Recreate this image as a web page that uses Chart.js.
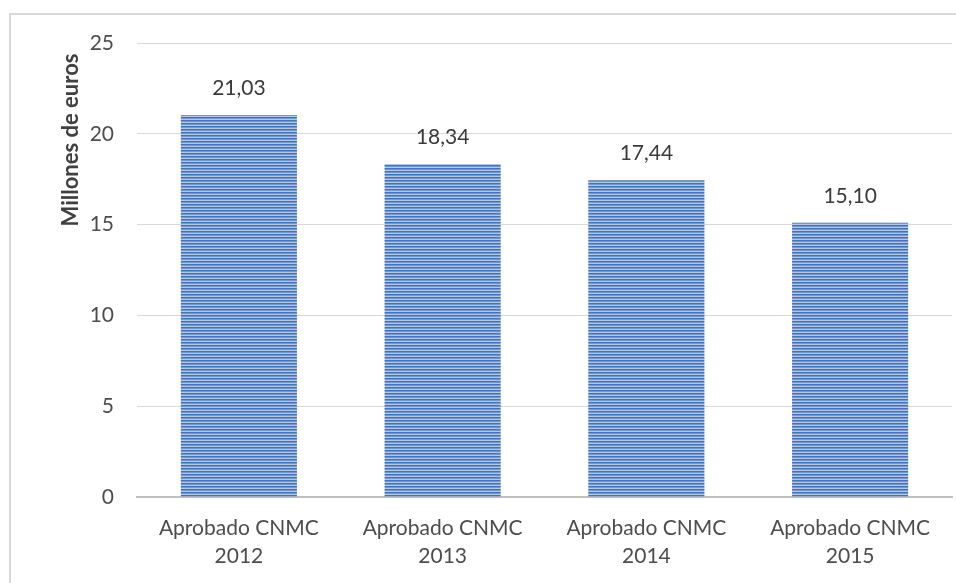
<!DOCTYPE html>
<html>
<head>
<meta charset="utf-8">
<script src="https://cdn.jsdelivr.net/npm/chart.js@4.4.1/dist/chart.umd.min.js"></script>
<style>
  html, body { margin: 0; padding: 0; background: #fff; }
  #wrap { position: relative; width: 956px; height: 583px; overflow: hidden; }
  #frame {
    position: absolute; left: 9px; top: 13px; width: 1000px; height: 700px;
    border-left: 2px solid #d9d9d9; border-top: 2px solid #d9d9d9;
  }
  canvas { position: absolute; left: 0; top: 0; }
</style>
</head>
<body>
<div id="wrap">
  <div id="frame"></div>
  <canvas id="chart" width="956" height="583"></canvas>
</div>
<script>
const categories = [
  ['Aprobado CNMC', '2012'],
  ['Aprobado CNMC', '2013'],
  ['Aprobado CNMC', '2014'],
  ['Aprobado CNMC', '2015'],
];
const values = [21.03, 18.34, 17.44, 15.10];
const yTicks = [0, 5, 10, 15, 20, 25];
const yTitle = 'Millones de euros';

const FONT = 'Lato, "Open Sans", sans-serif';

// horizontal stripes like the original fill
function stripePattern(ctx) {
  const c = document.createElement('canvas');
  c.width = 4; c.height = 3;
  const p = c.getContext('2d');
  p.fillStyle = '#4374ba'; p.fillRect(0, 0, 4, 1);
  p.fillStyle = '#7297cf'; p.fillRect(0, 1, 4, 1);
  p.fillStyle = '#b2c7e8'; p.fillRect(0, 2, 4, 1);
  return ctx.createPattern(c, 'repeat');
}

const valueLabels = {
  id: 'valueLabels',
  afterDatasetsDraw(chart) {
    const ctx = chart.ctx;
    const meta = chart.getDatasetMeta(0);
    ctx.save();
    ctx.font = '21px ' + FONT;
    ctx.fillStyle = '#3a3a3a';
    ctx.textAlign = 'center';
    ctx.textBaseline = 'middle';
    meta.data.forEach((bar, i) => {
      ctx.fillText(values[i].toFixed(2).replace('.', ','), bar.x, bar.y - 27);
    });
    ctx.restore();
  }
};

const axisTitle = {
  id: 'axisTitle',
  afterDraw(chart) {
    const ctx = chart.ctx;
    ctx.save();
    ctx.translate(71, 140);
    ctx.rotate(-Math.PI / 2);
    ctx.font = 'bold 22px ' + FONT;
    ctx.fillStyle = '#404040';
    ctx.textAlign = 'center';
    ctx.textBaseline = 'middle';
    ctx.fillText(yTitle, 0, 0);
    ctx.restore();
  }
};

const canvas = document.getElementById('chart');
const ctx = canvas.getContext('2d');

new Chart(canvas, {
  type: 'bar',
  data: {
    labels: categories,
    datasets: [{
      data: values,
      backgroundColor: stripePattern(ctx),
      borderWidth: 0,
      barPercentage: 0.57,
      categoryPercentage: 1,
    }],
  },
  options: {
    responsive: false,
    animation: false,
    layout: { padding: { top: 43, right: 4, left: 0, bottom: 0 } },
    plugins: { legend: { display: false }, tooltip: { enabled: false } },
    scales: {
      x: {
        grid: { display: false, drawTicks: false },
        border: { color: '#bfbfbf', width: 2 },
        ticks: {
          color: '#4d4d4d',
          font: { family: FONT, size: 21, lineHeight: 1.35 },
          padding: 17,
          maxRotation: 0,
        },
        afterFit(scale) { scale.height = 86; },
      },
      y: {
        min: 0, max: 25,
        afterBuildTicks(scale) { scale.ticks = yTicks.map(v => ({ value: v })); },
        grid: { color: '#d9d9d9', lineWidth: 1, drawTicks: false },
        border: { display: false },
        ticks: {
          color: '#4d4d4d',
          font: { family: FONT, size: 21 },
          padding: 23,
        },
        afterFit(scale) { scale.width = 137; },
      },
    },
  },
  plugins: [valueLabels, axisTitle],
});
</script>
</body>
</html>
